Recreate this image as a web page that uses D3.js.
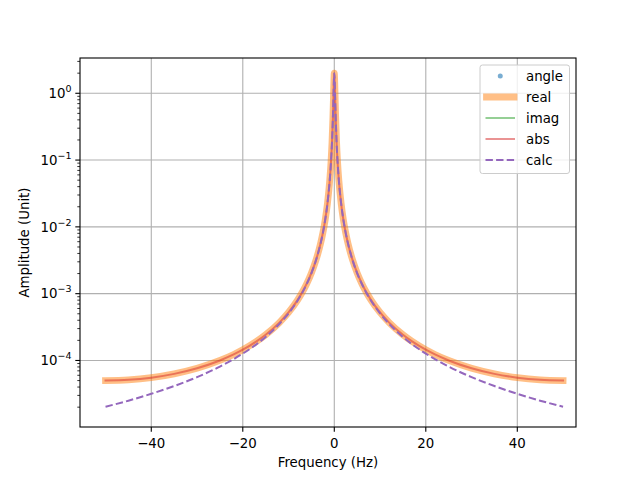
<!DOCTYPE html>
<html>
<head>
<meta charset="utf-8">
<script src="https://cdn.jsdelivr.net/npm/d3@7/dist/d3.min.js"></script>
<style>
  html, body { margin: 0; padding: 0; background: #fff; }
  svg { display: block; font-family: "DejaVu Sans", sans-serif; }
</style>
</head>
<body>
<svg id="chart" width="640" height="480"></svg>
<script>
// ---- data ----
const freq = [-50, -45, -40, -35, -30, -25, -22, -20, -17, -15, -12, -10, -8, -7, -6, -5, -4, -3, -2.5, -2, -1.5, -1, -0.7, -0.5, -0.3, -0.2, -0.1,
  0, 0.1, 0.2, 0.3, 0.5, 0.7, 1, 1.5, 2, 2.5, 3, 4, 5, 6, 7, 8, 10, 12, 15, 17, 20, 22, 25, 30, 35, 40, 45, 50];
const realVals = [5.0e-5, 5.13e-5, 5.53e-5, 6.3e-5, 7.64e-5, 1.0e-4, 1.23e-4, 1.447e-4, 1.93e-4, 2.426e-4, 3.69e-4, 5.235e-4, 8.08e-4, 1.05e-3, 1.423e-3, 2.04e-3, 3.18e-3, 5.63e-3, 8.09e-3, 1.26e-2, 2.228e-2, 4.943e-2, 9.83e-2, 0.184, 0.4392, 0.7755, 1.434,
  2.0, 1.434, 0.7755, 0.4392, 0.184, 9.83e-2, 4.943e-2, 2.228e-2, 1.26e-2, 8.09e-3, 5.63e-3, 3.18e-3, 2.04e-3, 1.423e-3, 1.05e-3, 8.08e-4, 5.235e-4, 3.69e-4, 2.426e-4, 1.93e-4, 1.447e-4, 1.23e-4, 1.0e-4, 7.64e-5, 6.3e-5, 5.53e-5, 5.13e-5, 5.0e-5];
const imagVals = [0, 0, 0, 0, 0, 0, 0, 0, 0, 0, 0, 0, 0, 0, 0, 0, 0, 0, 0, 0, 0, 0, 0, 0, 0, 0, 0,
  0, 0, 0, 0, 0, 0, 0, 0, 0, 0, 0, 0, 0, 0, 0, 0, 0, 0, 0, 0, 0, 0, 0, 0, 0, 0, 0, 0];
const absVals = [5.0e-5, 5.13e-5, 5.53e-5, 6.3e-5, 7.64e-5, 1.0e-4, 1.23e-4, 1.447e-4, 1.93e-4, 2.426e-4, 3.69e-4, 5.235e-4, 8.08e-4, 1.05e-3, 1.423e-3, 2.04e-3, 3.18e-3, 5.63e-3, 8.09e-3, 1.26e-2, 2.228e-2, 4.943e-2, 9.83e-2, 0.184, 0.4392, 0.7755, 1.434,
  2.0, 1.434, 0.7755, 0.4392, 0.184, 9.83e-2, 4.943e-2, 2.228e-2, 1.26e-2, 8.09e-3, 5.63e-3, 3.18e-3, 2.04e-3, 1.423e-3, 1.05e-3, 8.08e-4, 5.235e-4, 3.69e-4, 2.426e-4, 1.93e-4, 1.447e-4, 1.23e-4, 1.0e-4, 7.64e-5, 6.3e-5, 5.53e-5, 5.13e-5, 5.0e-5];
const angleVals = [0, 0, 0, 0, 0, 0, 0, 0, 0, 0, 0, 0, 0, 0, 0, 0, 0, 0, 0, 0, 0, 0, 0, 0, 0, 0, 0,
  0, 0, 0, 0, 0, 0, 0, 0, 0, 0, 0, 0, 0, 0, 0, 0, 0, 0, 0, 0, 0, 0, 0, 0, 0, 0, 0, 0];
const calcVals = [2.03e-5, 2.5e-5, 3.17e-5, 4.14e-5, 5.63e-5, 8.1e-5, 1.047e-4, 1.267e-4, 1.75e-4, 2.25e-4, 3.52e-4, 5.06e-4, 7.91e-4, 1.033e-3, 1.406e-3, 2.02e-3, 3.16e-3, 5.61e-3, 8.07e-3, 1.259e-2, 2.227e-2, 4.941e-2, 9.83e-2, 0.184, 0.4393, 0.7755, 1.434,
  2.0, 1.434, 0.7755, 0.4393, 0.184, 9.83e-2, 4.941e-2, 2.227e-2, 1.259e-2, 8.07e-3, 5.61e-3, 3.16e-3, 2.02e-3, 1.406e-3, 1.033e-3, 7.91e-4, 5.06e-4, 3.52e-4, 2.25e-4, 1.75e-4, 1.267e-4, 1.047e-4, 8.1e-5, 5.63e-5, 4.14e-5, 3.17e-5, 2.5e-5, 2.03e-5];
const xTicks = [-40, -20, 0, 20, 40];
const yTickExps = [0, -1, -2, -3, -4];
const legendLabels = ["angle", "real", "imag", "abs", "calc"];
const xLabel = "Frequency (Hz)";
const yLabel = "Amplitude (Unit)";

// ---- layout ----
const L = 80, R = 576, T = 58, B = 427;
const svg = d3.select("#chart");
const x = d3.scaleLinear().domain([-55.58, 52.83]).range([L, R]);
const y = d3.scaleLog().domain([Math.pow(10, -4.996), Math.pow(10, 0.528)]).range([B, T]);

svg.append("defs").append("clipPath").attr("id", "clip")
  .append("rect").attr("x", L).attr("y", T).attr("width", R - L).attr("height", B - T);

const gridColor = "#b0b0b0";
// grid
const grid = svg.append("g");
xTicks.forEach(t => grid.append("line").attr("x1", x(t)).attr("x2", x(t)).attr("y1", T).attr("y2", B)
  .attr("stroke", gridColor).attr("stroke-width", 1.1));
yTickExps.forEach(e => grid.append("line").attr("x1", L).attr("x2", R).attr("y1", y(Math.pow(10, e))).attr("y2", y(Math.pow(10, e)))
  .attr("stroke", gridColor).attr("stroke-width", 1.1));

const plot = svg.append("g").attr("clip-path", "url(#clip)");
function series(vals) {
  return freq.map((f, i) => ({ f, v: vals[i] })).filter(d => d.v > 0);
}
const line = d3.line().x(d => x(d.f)).y(d => y(d.v)).curve(d3.curveMonotoneX);

// angle (markers only, nonpositive values are not shown on log axis)
plot.selectAll("circle.angle").data(series(angleVals)).join("circle")
  .attr("cx", d => x(d.f)).attr("cy", d => y(d.v)).attr("r", 2.5).attr("fill", "#1f77b4").attr("opacity", 0.6);
// real
plot.append("path").datum(series(realVals)).attr("d", line).attr("fill", "none")
  .attr("stroke", "#ff7f0e").attr("stroke-opacity", 0.5).attr("stroke-width", 6.8)
  .attr("stroke-linecap", "square").attr("stroke-linejoin", "round");
// imag
const imagS = series(imagVals);
if (imagS.length) plot.append("path").datum(imagS).attr("d", line).attr("fill", "none")
  .attr("stroke", "#2ca02c").attr("stroke-opacity", 0.5).attr("stroke-width", 2);
// abs
plot.append("path").datum(series(absVals)).attr("d", line).attr("fill", "none")
  .attr("stroke", "#d62728").attr("stroke-opacity", 0.5).attr("stroke-width", 2)
  .attr("stroke-linecap", "square").attr("stroke-linejoin", "round");
// calc
plot.append("path").datum(series(calcVals)).attr("d", line).attr("fill", "none")
  .attr("stroke", "#9467bd").attr("stroke-width", 2).attr("stroke-dasharray", "7.4,3.2");

// spines
svg.append("rect").attr("x", L).attr("y", T).attr("width", R - L).attr("height", B - T)
  .attr("fill", "none").attr("stroke", "#000").attr("stroke-width", 1.1);

// x axis ticks
const ax = svg.append("g");
xTicks.forEach(t => {
  ax.append("line").attr("x1", x(t)).attr("x2", x(t)).attr("y1", B).attr("y2", B + 4.7).attr("stroke", "#000").attr("stroke-width", 1.1);
  ax.append("text").attr("x", x(t)).attr("y", B + 20.5).attr("text-anchor", "middle").attr("font-size", 13.33)
    .text(t < 0 ? "\u2212" + Math.abs(t) : String(t));
});
// y axis ticks (major + minor)
yTickExps.forEach(e => {
  const yy = y(Math.pow(10, e));
  ax.append("line").attr("x1", L - 4.7).attr("x2", L).attr("y1", yy).attr("y2", yy).attr("stroke", "#000").attr("stroke-width", 1.1);
  const t = ax.append("text").attr("x", L - 8.5).attr("y", yy + 4.8).attr("text-anchor", "end").attr("font-size", 13.33);
  t.append("tspan").text("10");
  t.append("tspan").attr("dy", -6).attr("font-size", 9.5).text(e < 0 ? "\u2212" + Math.abs(e) : String(e));
});
const [ylo, yhi] = y.domain();
for (let e = -5; e <= 0; e++) {
  for (let m = 2; m <= 9; m++) {
    const v = m * Math.pow(10, e);
    if (v < ylo || v > yhi) continue;
    const yy = y(v);
    ax.append("line").attr("x1", L - 2.7).attr("x2", L).attr("y1", yy).attr("y2", yy).attr("stroke", "#000").attr("stroke-width", 0.8);
  }
}

// axis labels
svg.append("text").attr("x", (L + R) / 2).attr("y", 467).attr("text-anchor", "middle").attr("font-size", 13.33).text(xLabel);
svg.append("text").attr("transform", `translate(29,${(T + B) / 2}) rotate(-90)`).attr("text-anchor", "middle")
  .attr("font-size", 13.33).text(yLabel);

// legend
const lg = svg.append("g");
lg.append("rect").attr("x", 480).attr("y", 65).attr("width", 89.5).attr("height", 108.5).attr("rx", 2.5)
  .attr("fill", "#fff").attr("fill-opacity", 0.8).attr("stroke", "#cccccc").attr("stroke-width", 1);
const rowY = [76, 97, 118, 139, 160];
const hx0 = 485.5, hx1 = 515;
legendLabels.forEach((lab, i) => {
  const yy = rowY[i];
  if (i === 0) {
    lg.append("circle").attr("cx", (hx0 + hx1) / 2).attr("cy", yy).attr("r", 2.5).attr("fill", "#1f77b4").attr("opacity", 0.6);
  } else if (i === 1) {
    lg.append("line").attr("x1", hx0 + 1).attr("x2", hx1 - 1).attr("y1", yy).attr("y2", yy).attr("stroke", "#ff7f0e")
      .attr("stroke-opacity", 0.5).attr("stroke-width", 6.8).attr("stroke-linecap", "square");
  } else if (i === 2) {
    lg.append("line").attr("x1", hx0).attr("x2", hx1).attr("y1", yy).attr("y2", yy).attr("stroke", "#2ca02c")
      .attr("stroke-opacity", 0.5).attr("stroke-width", 2);
  } else if (i === 3) {
    lg.append("line").attr("x1", hx0).attr("x2", hx1).attr("y1", yy).attr("y2", yy).attr("stroke", "#d62728")
      .attr("stroke-opacity", 0.5).attr("stroke-width", 2);
  } else {
    lg.append("line").attr("x1", hx0).attr("x2", hx1).attr("y1", yy).attr("y2", yy).attr("stroke", "#9467bd")
      .attr("stroke-width", 2).attr("stroke-dasharray", "7.4,3.2");
  }
  lg.append("text").attr("x", 526).attr("y", yy + 4.8).attr("font-size", 13.33).text(lab);
});
</script>
</body>
</html>
